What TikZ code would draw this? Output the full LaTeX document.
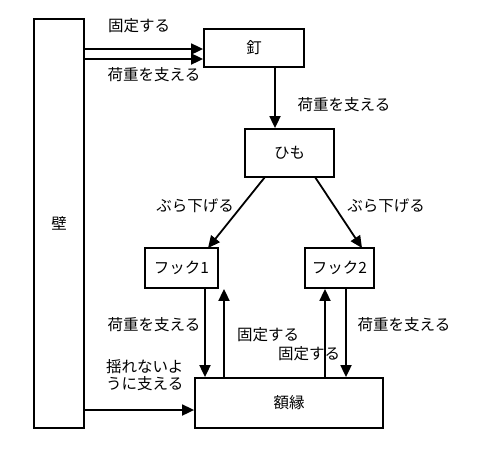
\documentclass[tikz,border=0pt]{standalone}
\usepackage{fontspec}
\setmainfont{Noto Sans CJK JP}
\usetikzlibrary{arrows.meta}
\begin{document}
\begin{tikzpicture}[x=1pt,y=-1pt,
  box/.style={draw,line width=1.8pt,inner sep=0pt,font=\fontsize{15.5}{17}\selectfont},
  lbl/.style={inner sep=0pt,font=\fontsize{15.5}{17}\selectfont},
  arr/.style={line width=1.8pt,-{Triangle[length=12pt,width=11pt]}}]
\useasboundingbox (0,0) rectangle (484,451);
\node[box,minimum width=50pt,minimum height=409pt] (wall) at (59,223.5) {壁};
\node[box,minimum width=100pt,minimum height=38pt] (nail) at (254,48) {釘};
\node[box,minimum width=89pt,minimum height=48pt] (himo) at (289.5,153) {ひも};
\node[box,minimum width=73pt,minimum height=40pt] (hook1) at (181.5,268) {フック1};
\node[box,minimum width=69pt,minimum height=40pt] (hook2) at (339.5,268) {フック2};
\node[box,minimum width=188pt,minimum height=50pt] (frame) at (289,403) {額縁};
% wall to nail
\draw[arr] (wall.east |- 0,49) -- (nail.west |- 0,49);
\draw[arr] (wall.east |- 0,59) -- (nail.west |- 0,59);
\node[lbl] (l1) at (139,26) {固定する};
\node[lbl] (l2) at (154,75) {荷重を支える};
% nail to himo
\draw[arr] (nail.south -| 275,0) -- (himo.north -| 275,0);
\node[lbl] (l3) at (344,105) {荷重を支える};
% himo to hooks
\coordinate (h1s) at (265,177);
\coordinate (h1e) at (208,248);
\coordinate (h2s) at (315,177);
\coordinate (h2e) at (362,248);
\draw[arr] (h1s) -- (h1e);
\draw[arr] (h2s) -- (h2e);
\node[lbl] (l4) at (195,206) {ぶら下げる};
\node[lbl] (l5) at (386,206) {ぶら下げる};
% hooks and frame
\draw[arr] (hook1.south -| 205,0) -- (frame.north -| 205,0);
\draw[arr] (frame.north -| 224,0) -- (hook1.south -| 224,0);
\draw[arr] (frame.north -| 325,0) -- (hook2.south -| 325,0);
\draw[arr] (hook2.south -| 346,0) -- (frame.north -| 346,0);
\node[lbl] (l6) at (154,325) {荷重を支える};
\node[lbl] (l7) at (268,335) {固定する};
\node[lbl] (l8) at (309,354) {固定する};
\node[lbl] (l9) at (404,325) {荷重を支える};
% wall to frame
\draw[arr] (wall.east |- 0,410) -- (frame.west |- 0,410);
\node[lbl,anchor=west] (l10) at (106,367) {揺れないよ};
\node[lbl,anchor=west] (l11) at (106,384) {うに支える};
\end{tikzpicture}
\end{document}
